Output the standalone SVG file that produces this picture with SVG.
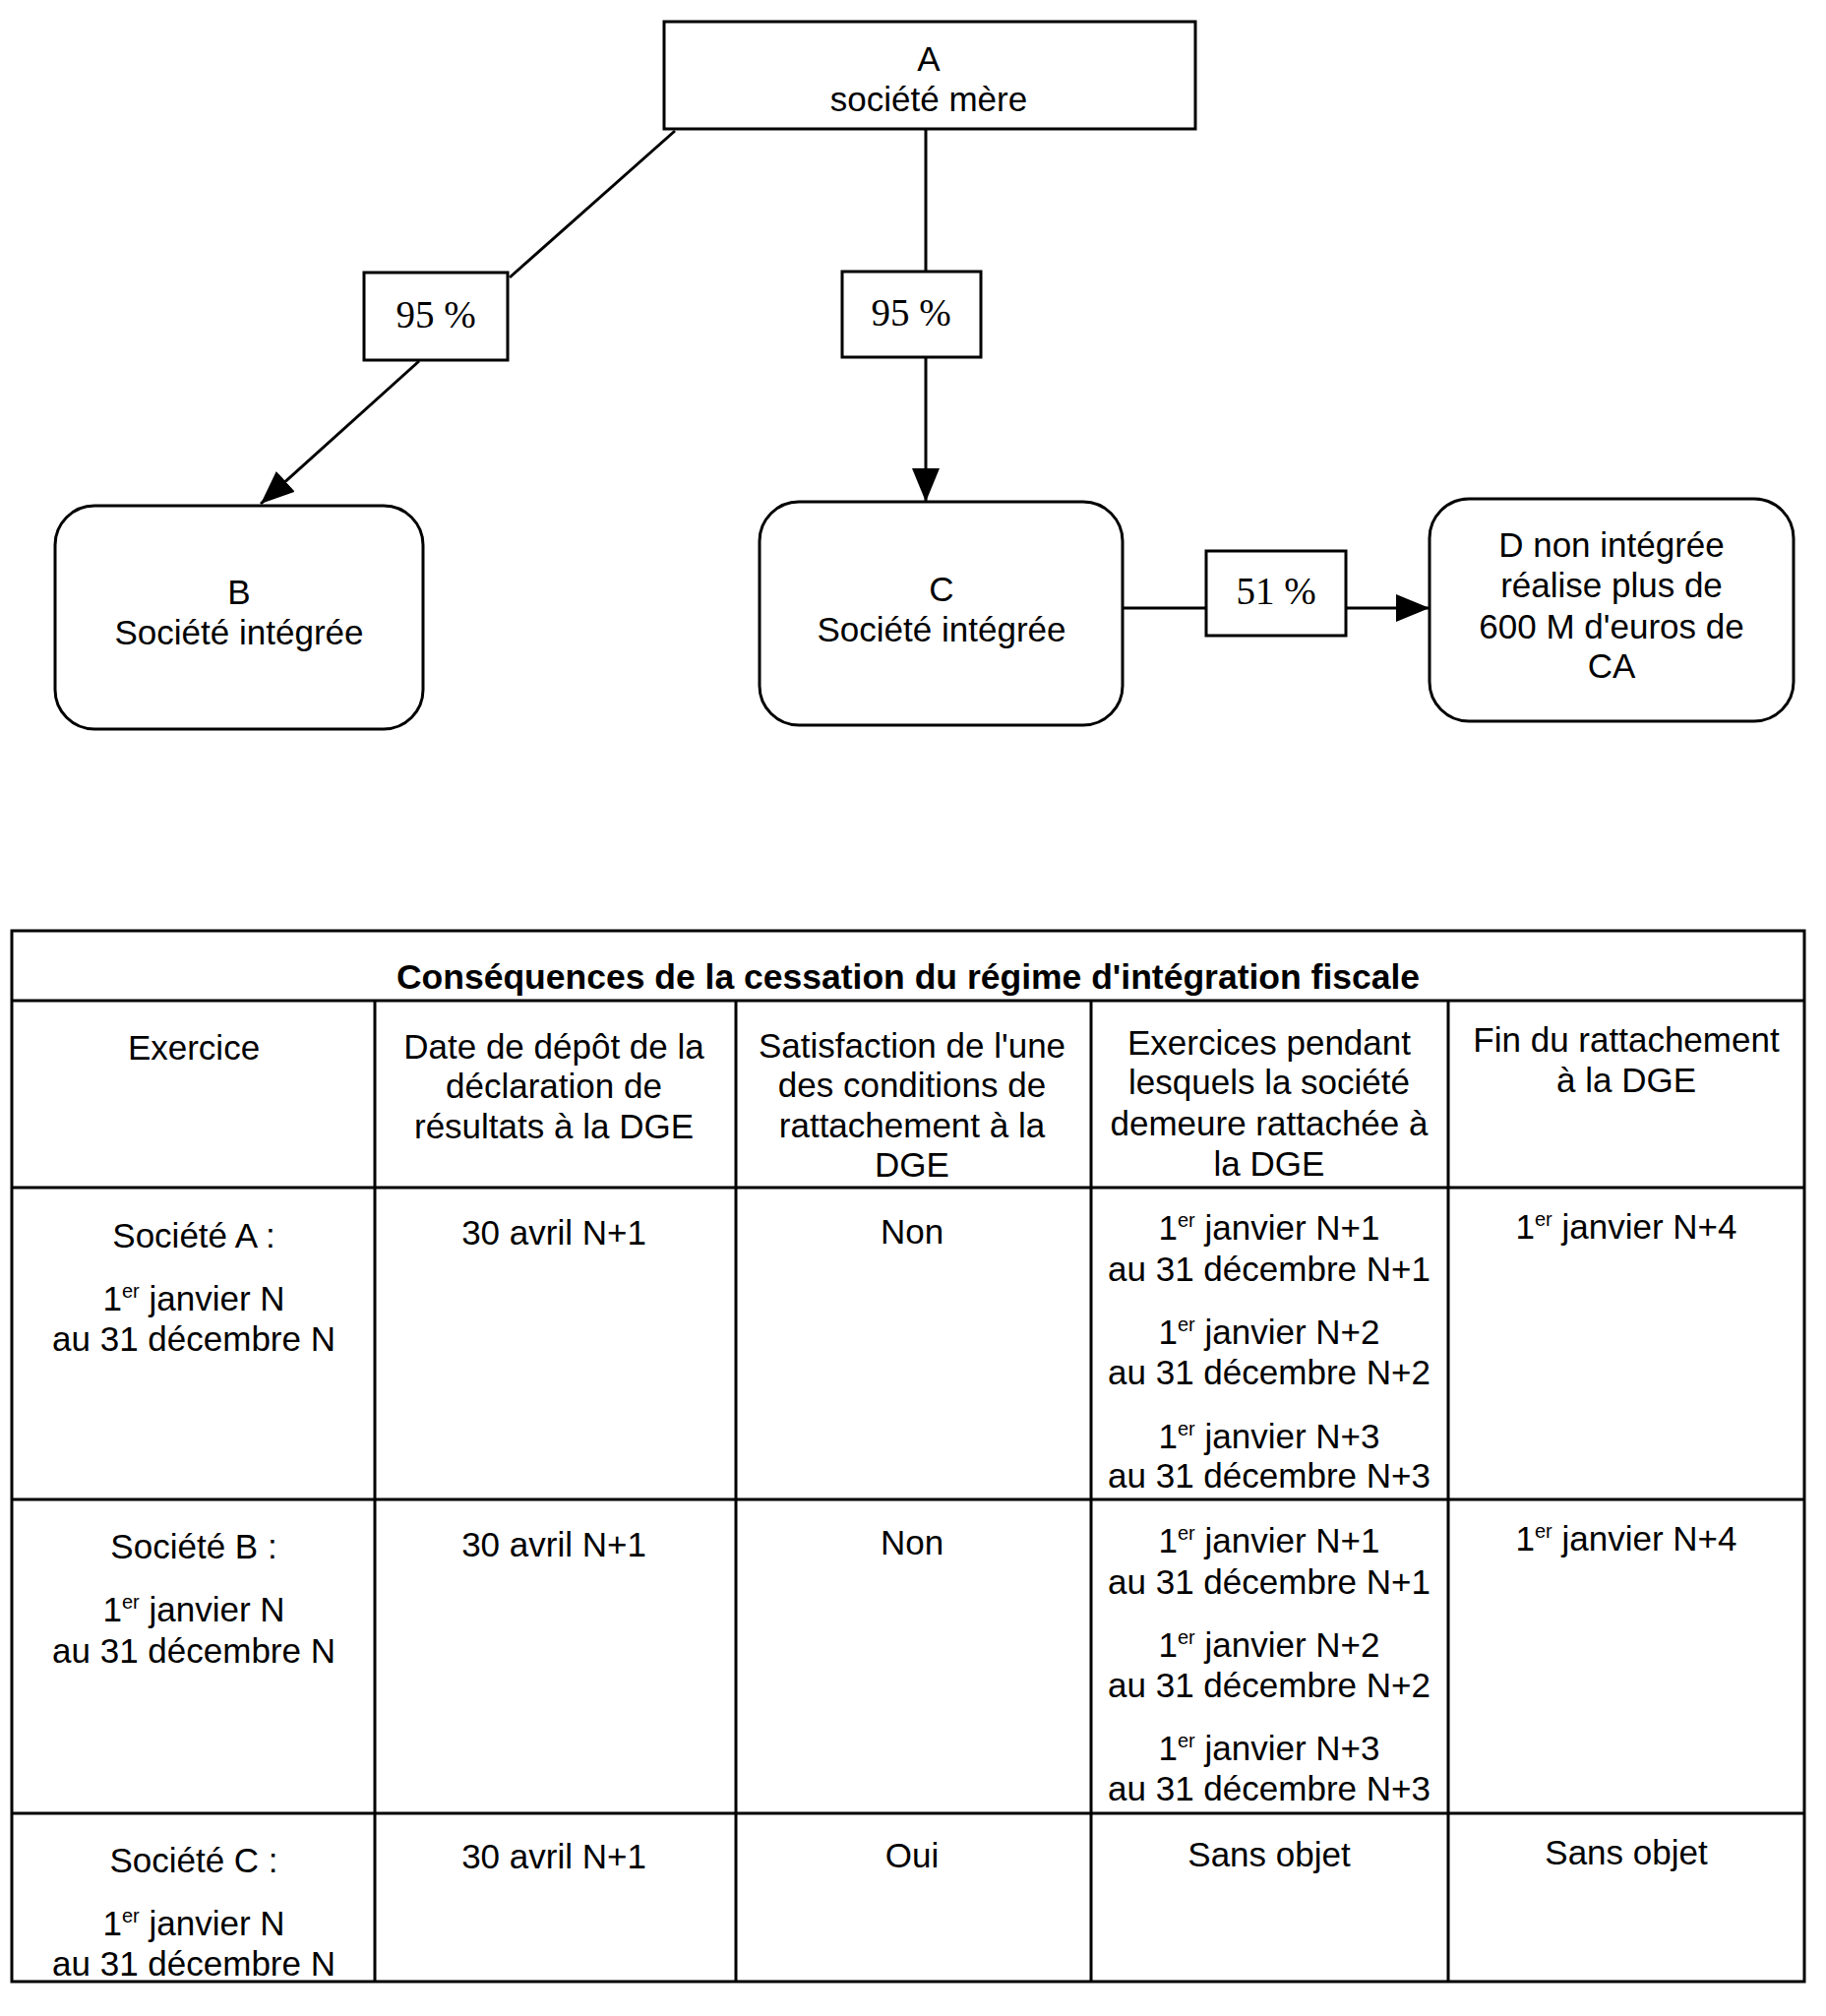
<svg xmlns="http://www.w3.org/2000/svg" width="1856" height="2049" viewBox="0 0 1856 2049">
<style>
.t{font-family:"Liberation Sans",Arial,sans-serif;font-size:35px;fill:#000;text-anchor:middle}
.p{font-family:"Liberation Serif","Times New Roman",serif;font-size:39px;fill:#000;text-anchor:middle}
.b{font-family:"Liberation Sans",Arial,sans-serif;font-size:35.5px;font-weight:bold;fill:#000;text-anchor:middle}
.box{fill:#fff;stroke:#000;stroke-width:3}
.ln{fill:none;stroke:#000;stroke-width:3}
.sup{font-size:20px}
</style>
<defs>
<marker id="arrL" viewBox="0 0 10 10" refX="10" refY="5" markerWidth="34" markerHeight="28" markerUnits="userSpaceOnUse" orient="auto" preserveAspectRatio="none">
<path d="M0,0 L10,5 L0,10 z" fill="#000"/>
</marker>
</defs>
<rect width="1856" height="2049" fill="#fff"/>
<g id="connectors">
<line class="ln" x1="686" y1="133" x2="518" y2="282"/>
<line class="ln" x1="426" y1="367" x2="265" y2="512" marker-end="url(#arrL)"/>
<line class="ln" x1="941" y1="131" x2="941" y2="276"/>
<line class="ln" x1="941" y1="363" x2="941" y2="510" marker-end="url(#arrL)"/>
<line class="ln" x1="1141" y1="618" x2="1226" y2="618"/>
<line class="ln" x1="1368" y1="618" x2="1453" y2="618" stroke-width="4" marker-end="url(#arrL)"/>
</g>
<g id="nodeA">
<rect class="box" x="675" y="22" width="540" height="109"/>
<text class="t" x="944" y="72">A</text>
<text class="t" x="944" y="113">société mère</text>
</g>
<g id="label95B">
<rect class="box" x="370" y="277" width="146" height="89"/>
<text class="p" x="443" y="333">95 %</text>
</g>
<g id="label95C">
<rect class="box" x="856" y="276" width="141" height="87"/>
<text class="p" x="926" y="331">95 %</text>
</g>
<g id="label51">
<rect class="box" x="1226" y="560" width="142" height="86"/>
<text class="p" x="1297" y="614">51 %</text>
</g>
<g id="nodeB">
<rect class="box" x="56" y="514" width="374" height="227" rx="40" ry="40"/>
<text class="t" x="243" y="614">B</text>
<text class="t" x="243" y="655">Société intégrée</text>
</g>
<g id="nodeC">
<rect class="box" x="772" y="510" width="369" height="227" rx="40" ry="40"/>
<text class="t" x="957" y="611">C</text>
<text class="t" x="957" y="652">Société intégrée</text>
</g>
<g id="nodeD">
<rect class="box" x="1453" y="507" width="370" height="226" rx="40" ry="40"/>
<text class="t" x="1638" y="566">D non intégrée</text>
<text class="t" x="1638" y="607">réalise plus de</text>
<text class="t" x="1638" y="649">600 M d'euros de</text>
<text class="t" x="1638" y="689">CA</text>
</g>
<g id="table">
<rect x="12" y="946" width="1822" height="1068" fill="none" stroke="#000" stroke-width="3"/>
<line class="ln" x1="12" y1="1017" x2="1834" y2="1017"/>
<line class="ln" x1="12" y1="1207" x2="1834" y2="1207"/>
<line class="ln" x1="12" y1="1524" x2="1834" y2="1524"/>
<line class="ln" x1="12" y1="1843" x2="1834" y2="1843"/>
<line class="ln" x1="381" y1="1017" x2="381" y2="2014"/>
<line class="ln" x1="748" y1="1017" x2="748" y2="2014"/>
<line class="ln" x1="1109" y1="1017" x2="1109" y2="2014"/>
<line class="ln" x1="1472" y1="1017" x2="1472" y2="2014"/>
<text class="b" x="923" y="1005">Conséquences de la cessation du régime d'intégration fiscale</text>
<text class="t" x="197" y="1077">Exercice</text>
<text class="t" x="563" y="1076">Date de dépôt de la</text>
<text class="t" x="563" y="1116">déclaration de</text>
<text class="t" x="563" y="1157">résultats à la DGE</text>
<text class="t" x="927" y="1075">Satisfaction de l'une</text>
<text class="t" x="927" y="1115">des conditions de</text>
<text class="t" x="927" y="1156">rattachement à la</text>
<text class="t" x="927" y="1196">DGE</text>
<text class="t" x="1290" y="1072">Exercices pendant</text>
<text class="t" x="1290" y="1112">lesquels la société</text>
<text class="t" x="1290" y="1154">demeure rattachée à</text>
<text class="t" x="1290" y="1195">la DGE</text>
<text class="t" x="1653" y="1069">Fin du rattachement</text>
<text class="t" x="1653" y="1110">à la DGE</text>

<text class="t" x="197" y="1268">Société A :</text>
<text class="t" x="197" y="1332">1<tspan class="sup" dy="-13">er</tspan><tspan dy="13"> janvier N</tspan></text>
<text class="t" x="197" y="1373">au 31 décembre N</text>
<text class="t" x="563" y="1265">30 avril N+1</text>
<text class="t" x="927" y="1264">Non</text>
<text class="t" x="1290" y="1260">1<tspan class="sup" dy="-13">er</tspan><tspan dy="13"> janvier N+1</tspan></text>
<text class="t" x="1290" y="1302">au 31 décembre N+1</text>
<text class="t" x="1290" y="1366">1<tspan class="sup" dy="-13">er</tspan><tspan dy="13"> janvier N+2</tspan></text>
<text class="t" x="1290" y="1407">au 31 décembre N+2</text>
<text class="t" x="1290" y="1472">1<tspan class="sup" dy="-13">er</tspan><tspan dy="13"> janvier N+3</tspan></text>
<text class="t" x="1290" y="1512">au 31 décembre N+3</text>
<text class="t" x="1653" y="1259">1<tspan class="sup" dy="-13">er</tspan><tspan dy="13"> janvier N+4</tspan></text>

<text class="t" x="197" y="1584">Société B :</text>
<text class="t" x="197" y="1648">1<tspan class="sup" dy="-13">er</tspan><tspan dy="13"> janvier N</tspan></text>
<text class="t" x="197" y="1690">au 31 décembre N</text>
<text class="t" x="563" y="1582">30 avril N+1</text>
<text class="t" x="927" y="1580">Non</text>
<text class="t" x="1290" y="1578">1<tspan class="sup" dy="-13">er</tspan><tspan dy="13"> janvier N+1</tspan></text>
<text class="t" x="1290" y="1620">au 31 décembre N+1</text>
<text class="t" x="1290" y="1684">1<tspan class="sup" dy="-13">er</tspan><tspan dy="13"> janvier N+2</tspan></text>
<text class="t" x="1290" y="1725">au 31 décembre N+2</text>
<text class="t" x="1290" y="1789">1<tspan class="sup" dy="-13">er</tspan><tspan dy="13"> janvier N+3</tspan></text>
<text class="t" x="1290" y="1830">au 31 décembre N+3</text>
<text class="t" x="1653" y="1576">1<tspan class="sup" dy="-13">er</tspan><tspan dy="13"> janvier N+4</tspan></text>

<text class="t" x="197" y="1903">Société C :</text>
<text class="t" x="197" y="1967">1<tspan class="sup" dy="-13">er</tspan><tspan dy="13"> janvier N</tspan></text>
<text class="t" x="197" y="2008">au 31 décembre N</text>
<text class="t" x="563" y="1899">30 avril N+1</text>
<text class="t" x="927" y="1898">Oui</text>
<text class="t" x="1290" y="1897">Sans objet</text>
<text class="t" x="1653" y="1895">Sans objet</text>
</g>
</svg>
